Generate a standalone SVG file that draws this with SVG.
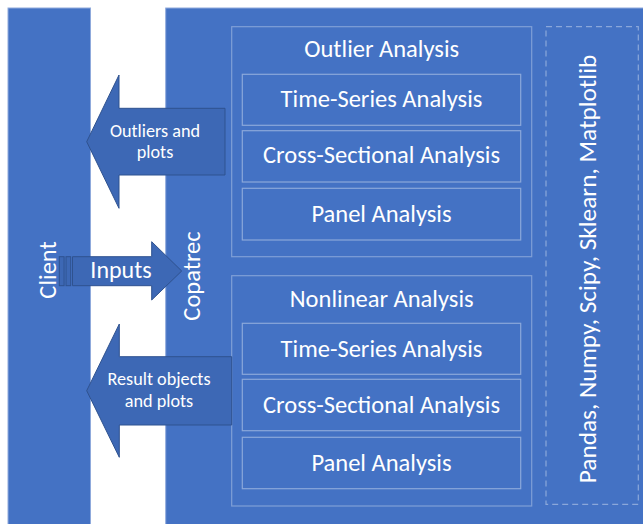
<svg xmlns="http://www.w3.org/2000/svg" width="643" height="524" viewBox="0 0 643 524">
  <style>
    .panel { fill: #4472c4; stroke: #8faadc; stroke-width: 1; }
    .group { fill: none; stroke: #ffffff; stroke-opacity: 0.32; stroke-width: 1.2; }
    .box { fill: none; stroke: #ffffff; stroke-opacity: 0.38; stroke-width: 1.2; }
    .dash { fill: none; stroke: #ffffff; stroke-opacity: 0.38; stroke-width: 1.2; stroke-dasharray: 6 4; }
    .arrow { fill: #3d68b5; stroke: #2f528f; stroke-width: 1; }
    text { font-family: Carlito, Lato, "Liberation Sans", sans-serif; fill: #ffffff; }
    .big { font-size: 24.5px; text-anchor: middle; }
    .side { font-size: 24.5px; text-anchor: middle; }
    .lib { font-size: 25.3px; text-anchor: middle; }
    .lbl { font-size: 18.2px; text-anchor: middle; }
    .inp { font-size: 24px; text-anchor: middle; }
  </style>
  <rect width="643" height="524" fill="#ffffff"/>

  <!-- Client column -->
  <g id="client">
    <rect class="panel" x="8" y="8" width="82.5" height="530"/>
    <text class="side" transform="translate(56 270) rotate(-90)">Client</text>
  </g>

  <!-- Copatrec main panel -->
  <g id="copatrec">
    <rect class="panel" x="165.7" y="8" width="490" height="530"/>
    <text class="side" transform="translate(200 276) rotate(-90)">Copatrec</text>
  </g>

  <!-- Outlier analysis group -->
  <g id="outlier-analysis">
    <rect class="group" x="231.7" y="26.7" width="300" height="230"/>
    <text class="big" x="381.7" y="56.7">Outlier Analysis</text>
  </g>
  <g id="outlier-ts">
    <rect class="box" x="242.3" y="74.3" width="278.4" height="51"/>
    <text class="big" x="381.5" y="106.7">Time-Series Analysis</text>
  </g>
  <g id="outlier-cs">
    <rect class="box" x="242.3" y="130.7" width="278.4" height="51.3"/>
    <text class="big" x="381.5" y="163.3">Cross-Sectional Analysis</text>
  </g>
  <g id="outlier-panel">
    <rect class="box" x="242.3" y="188.3" width="278.4" height="51.7"/>
    <text class="big" x="381.5" y="221.7">Panel Analysis</text>
  </g>

  <!-- Nonlinear analysis group -->
  <g id="nonlinear-analysis">
    <rect class="group" x="231.7" y="275.7" width="300" height="230.3"/>
    <text class="big" x="381.7" y="306.7">Nonlinear Analysis</text>
  </g>
  <g id="nonlinear-ts">
    <rect class="box" x="242.3" y="323.3" width="278.4" height="51"/>
    <text class="big" x="381.5" y="356.7">Time-Series Analysis</text>
  </g>
  <g id="nonlinear-cs">
    <rect class="box" x="242.3" y="379.3" width="278.4" height="51.4"/>
    <text class="big" x="381.5" y="412.7">Cross-Sectional Analysis</text>
  </g>
  <g id="nonlinear-panel">
    <rect class="box" x="242.3" y="437.3" width="278.4" height="51.4"/>
    <text class="big" x="381.5" y="470.7">Panel Analysis</text>
  </g>

  <!-- Libraries -->
  <g id="libraries">
    <rect class="dash" x="546" y="26.7" width="92.3" height="477.6"/>
    <text class="lib" transform="translate(596 269) rotate(-90)">Pandas, Numpy, Scipy, Sklearn, Matplotlib</text>
  </g>

  <!-- Connectors: block arrows between client and Copatrec -->
  <g id="connectors">
    <g id="outliers-arrow">
      <polygon class="arrow" points="86.7,141.7 119,75 119,108.3 225,108.3 225,175 119,175 119,208.3"/>
      <text class="lbl" x="155" y="136.7">Outliers and</text>
      <text class="lbl" x="155" y="158.3">plots</text>
    </g>
    <g id="inputs-arrow">
      <rect class="arrow" x="59.3" y="256.7" width="4.8" height="29"/>
      <rect class="arrow" x="66" y="256.7" width="4.7" height="29"/>
      <polygon class="arrow" points="72.5,256.7 151.7,256.7 151.7,241.7 181.7,271 151.7,300 151.7,285.7 72.5,285.7"/>
      <text class="inp" x="121" y="277.5">Inputs</text>
    </g>
    <g id="results-arrow">
      <polygon class="arrow" points="86.7,390.7 119.3,324 119.3,356.7 231.7,356.7 231.7,425 119.3,425 119.3,457.3"/>
      <text class="lbl" x="159" y="385">Result objects</text>
      <text class="lbl" x="159" y="406.7">and plots</text>
    </g>
  </g>
</svg>
